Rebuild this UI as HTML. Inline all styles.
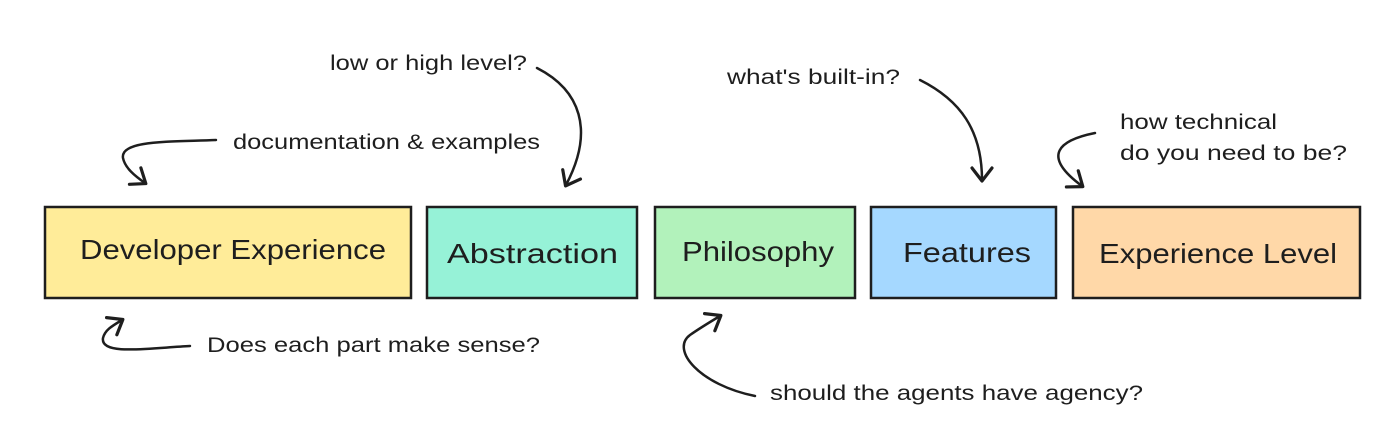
<!DOCTYPE html>
<html><head><meta charset="utf-8"><style>
html,body{margin:0;padding:0;background:#fff;}
svg{display:block}
text{font-family:"Liberation Sans","DejaVu Sans",sans-serif;fill:#1e1e1e}
</style></head><body>
<svg width="1400" height="444" viewBox="0 0 1400 444" xmlns="http://www.w3.org/2000/svg">
<defs>
<marker id="ah" markerWidth="22" markerHeight="24" refX="14" refY="12" orient="auto" markerUnits="userSpaceOnUse">
<path d="M2,2 L15,12 L2,22" fill="none" stroke="#1e1e1e" stroke-width="3.2" stroke-linejoin="round" stroke-linecap="round"/>
</marker>
</defs>
<g stroke="#1e1e1e" stroke-width="2.5">
<rect x="45" y="207" width="366" height="91" fill="#ffec99"/>
<rect x="427" y="207" width="210" height="91" fill="#96f2d7"/>
<rect x="655" y="207" width="200" height="91" fill="#b2f2bb"/>
<rect x="871" y="207" width="185" height="91" fill="#a5d8ff"/>
<rect x="1073" y="207" width="287" height="91" fill="#ffd8a8"/>
</g>
<g font-size="28" lengthAdjust="spacingAndGlyphs">
<text x="80" y="259" textLength="306" lengthAdjust="spacingAndGlyphs">Developer Experience</text>
<text x="447" y="263" textLength="171" lengthAdjust="spacingAndGlyphs">Abstraction</text>
<text x="682" y="261" textLength="152" lengthAdjust="spacingAndGlyphs">Philosophy</text>
<text x="903" y="262" textLength="128" lengthAdjust="spacingAndGlyphs">Features</text>
<text x="1099" y="263" textLength="238" lengthAdjust="spacingAndGlyphs">Experience Level</text>
</g>
<g font-size="21">
<text x="233" y="149" textLength="307" lengthAdjust="spacingAndGlyphs">documentation &amp; examples</text>
<text x="330" y="70" textLength="197" lengthAdjust="spacingAndGlyphs">low or high level?</text>
<text x="727" y="84" textLength="173" lengthAdjust="spacingAndGlyphs">what's built-in?</text>
<text x="1120" y="129" textLength="157" lengthAdjust="spacingAndGlyphs">how technical</text>
<text x="1120" y="160" textLength="227" lengthAdjust="spacingAndGlyphs">do you need to be?</text>
<text x="207" y="352" textLength="333" lengthAdjust="spacingAndGlyphs">Does each part make sense?</text>
<text x="770" y="400" textLength="373" lengthAdjust="spacingAndGlyphs">should the agents have agency?</text>
</g>
<g fill="none" stroke="#1e1e1e" stroke-width="2.5" stroke-linecap="round" marker-end="url(#ah)">
<path d="M216,140 C170,142 120,140 123,158 C125,168 135,176 145,183"/>
<path d="M537,68 C580,90 595,130 566,185"/>
<path d="M920,80 C960,100 982,130 982,180"/>
<path d="M1095,133 C1060,140 1040,155 1082,186"/>
<path d="M190,346 C150,348 100,356 103,338 C105,330 112,326 122,320"/>
<path d="M755,396 C700,385 670,350 690,335 C700,328 710,322 720,316"/>
</g>
</svg>
</body></html>
